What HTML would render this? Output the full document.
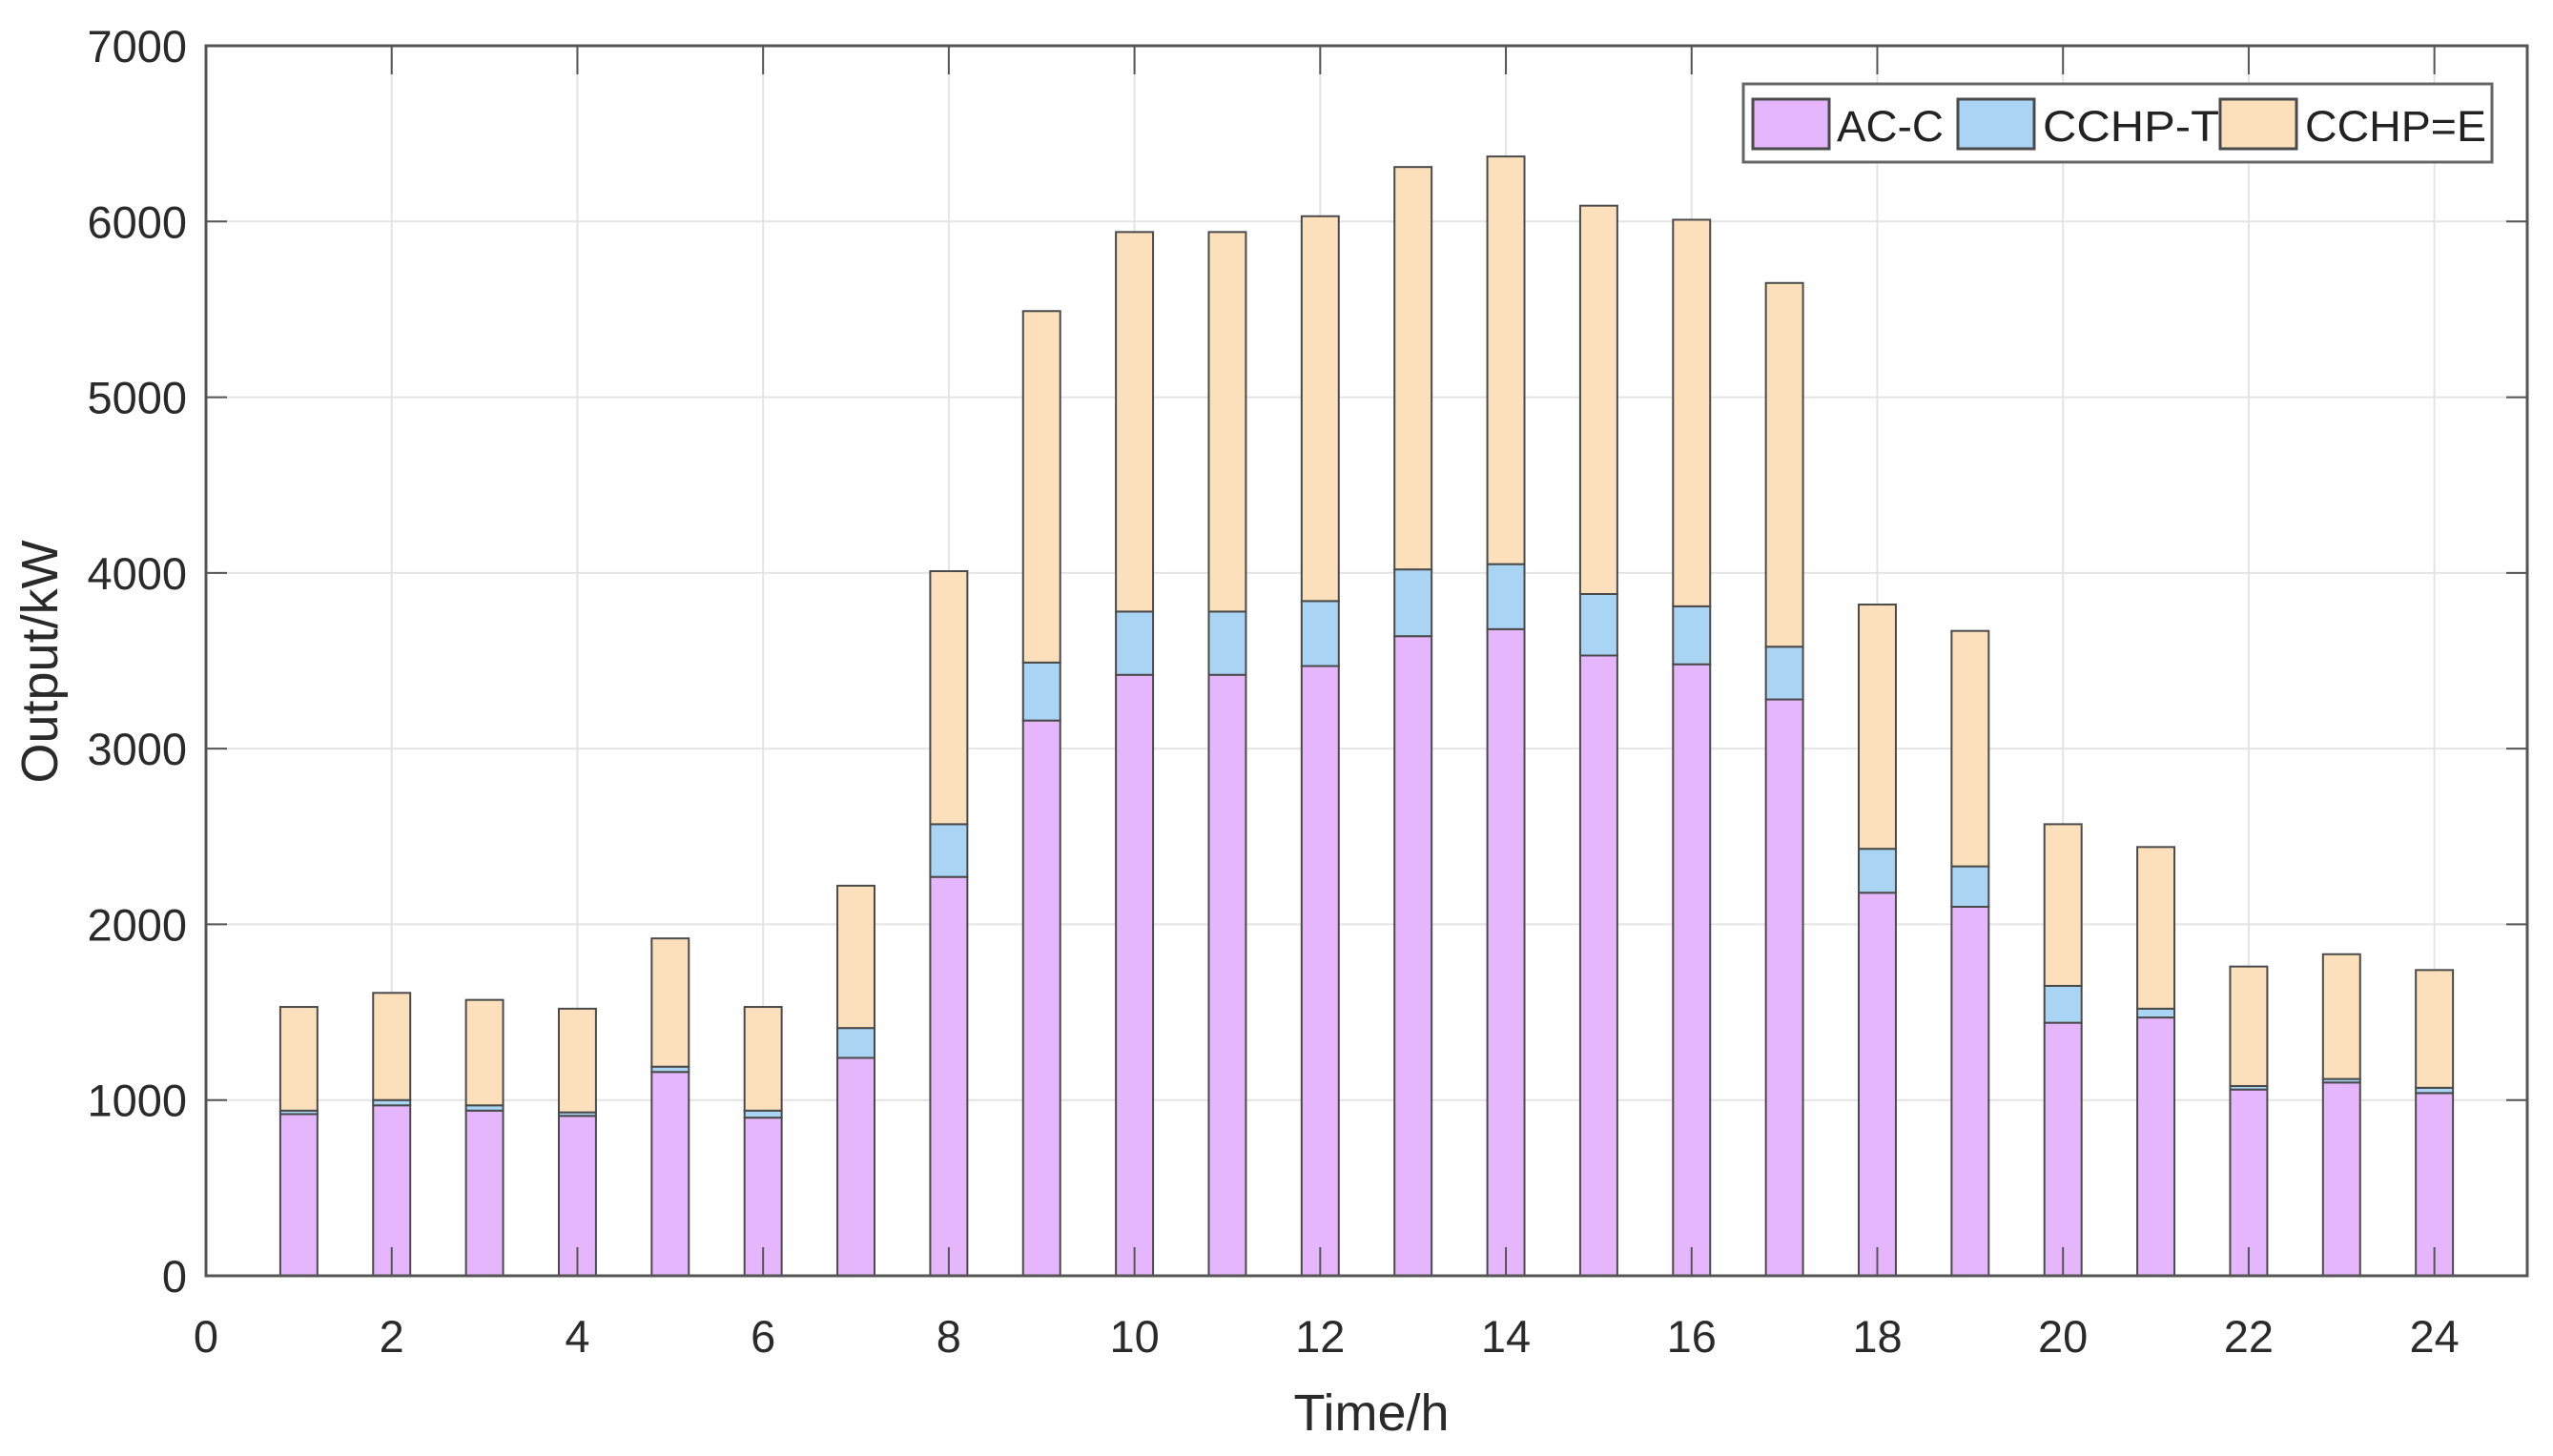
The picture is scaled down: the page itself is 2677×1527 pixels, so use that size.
<!DOCTYPE html>
<html><head><meta charset="utf-8"><style>
body{margin:0;background:#fff;}
svg{display:block;font-family:"Liberation Sans",Arial,sans-serif;}
</style></head><body>
<svg id="chart" width="2677" height="1527" xmlns="http://www.w3.org/2000/svg"></svg>
<script>
const hours=[1,2,3,4,5,6,7,8,9,10,11,12,13,14,15,16,17,18,19,20,21,22,23,24];
const acC=[920,970,940,910,1160,900,1240,2270,3160,3420,3420,3470,3640,3680,3530,3480,3280,2180,2100,1440,1470,1060,1100,1040];
const cchpT=[20,30,30,20,30,40,170,300,330,360,360,370,380,370,350,330,300,250,230,210,50,20,20,30];
const cchpE=[590,610,600,590,730,590,810,1440,2000,2160,2160,2190,2290,2320,2210,2200,2070,1390,1340,920,920,680,710,670];
const xTicks=[0,2,4,6,8,10,12,14,16,18,20,22,24];
const yTicks=[0,1000,2000,3000,4000,5000,6000,7000];
const seriesNames=["AC-C","CCHP-T","CCHP=E"];

const L=216,R=2650,T=48,B=1338,XMAX=25,YMAX=7000;
const sx=v=>L+(R-L)*v/XMAX, sy=v=>B-(B-T)*v/YMAX;
const svg=document.getElementById('chart');
const NS="http://www.w3.org/2000/svg";
function mk(tag,attrs,parent){const e=document.createElementNS(NS,tag);for(const k in attrs)e.setAttribute(k,attrs[k]);(parent||svg).appendChild(e);return e;}
const colors=["#e6b6fc","#aad4f4","#fbe0bb"];
xTicks.forEach(t=>{if(t>0){const g=mk('line',{x1:sx(t),x2:sx(t),y1:T,y2:B,stroke:'#e4e4e4','stroke-width':2});

}});
yTicks.forEach(t=>{if(t>0){const g=mk('line',{x1:L,x2:R,y1:sy(t),y2:sy(t),stroke:'#e4e4e4','stroke-width':2});

}});
const bw=0.4;
hours.forEach((h,i)=>{
  const vals=[acC[i],cchpT[i],cchpE[i]];let base=0;
  vals.forEach((v,k)=>{
    const r=mk('rect',{x:sx(h-bw/2),width:sx(h+bw/2)-sx(h-bw/2),y:sy(base+v),height:sy(base)-sy(base+v),fill:colors[k],stroke:'#4a4a4a','stroke-width':2});
    
    
    base+=v;
  });
});
const box=mk('rect',{x:L,y:T,width:R-L,height:B-T,fill:'none',stroke:'#555','stroke-width':3});


xTicks.forEach(t=>{
  mk('line',{x1:sx(t),x2:sx(t),y1:B,y2:B-30,stroke:'#555','stroke-width':2});
  mk('line',{x1:sx(t),x2:sx(t),y1:T,y2:T+30,stroke:'#555','stroke-width':2});
  const tx=mk('text',{x:sx(t),y:1418,'text-anchor':'middle','font-size':47,fill:'#2a2a2a'});tx.textContent=t;
  
  
});
yTicks.forEach(t=>{
  mk('line',{x1:L,x2:L+22,y1:sy(t),y2:sy(t),stroke:'#555','stroke-width':2});
  mk('line',{x1:R,x2:R-22,y1:sy(t),y2:sy(t),stroke:'#555','stroke-width':2});
  const tx=mk('text',{x:196,y:sy(t)+17,'text-anchor':'end','font-size':47,fill:'#2a2a2a'});tx.textContent=t;
  
  
});
const xl=mk('text',{x:1438,y:1500,'text-anchor':'middle','font-size':54,fill:'#2a2a2a'});xl.textContent='Time/h';


const yl=mk('text',{x:0,y:0,'text-anchor':'middle','font-size':54,fill:'#2a2a2a',transform:'translate(60,694) rotate(-90)'});yl.textContent='Output/kW';


const lg=mk('g',{});


mk('rect',{x:1828,y:88,width:785,height:82,fill:'#fff',stroke:'#666','stroke-width':3},lg);
const lx=[1838,2053,2328],tw=[1926,2142,2417];
seriesNames.forEach((n,k)=>{
  const s=mk('rect',{x:lx[k],y:104,width:80,height:52,fill:colors[k],stroke:'#4a4a4a','stroke-width':3},lg);
  
  
  const t=mk('text',{x:tw[k],y:148,'font-size':45,fill:'#222',textLength:[112,185,190][k],lengthAdjust:'spacingAndGlyphs'},lg);t.textContent=n;
  
  
});
</script>
</body></html>
